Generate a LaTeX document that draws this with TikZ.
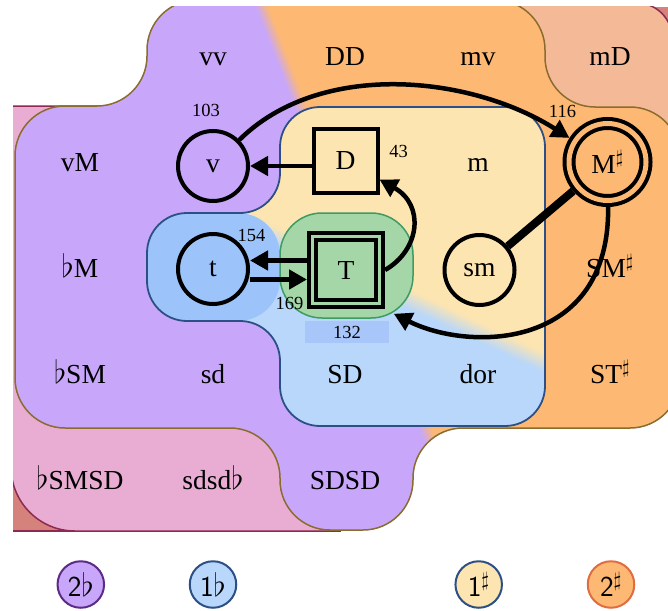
\RequirePackage{fix-cm}
\documentclass[tikz,border=0pt]{standalone}
\usepackage{fontspec}
\setmainfont{Liberation Serif}
\usetikzlibrary{arrows.meta}
\definecolor{cP}{HTML}{C8A7FB}
\definecolor{cO}{HTML}{FDB973}
\definecolor{cB}{HTML}{B8D7FB}
\definecolor{cY}{HTML}{FDE5B1}
\definecolor{cTB}{HTML}{9CC4FB}
\definecolor{cG}{HTML}{A5D6A7}
\definecolor{cGb}{HTML}{3E9B63}
\definecolor{cPink}{HTML}{E9ADD4}
\definecolor{cSal}{HTML}{F4BA98}
\definecolor{cR}{HTML}{D4827B}
\definecolor{cMar}{HTML}{8E2A52}
\definecolor{cOl}{HTML}{8A6C2E}
\definecolor{cNavy}{HTML}{2C5085}
\definecolor{cLB}{HTML}{A9C6FA}
\definecolor{cLP}{HTML}{5B2B86}
\definecolor{cLO}{HTML}{E06C42}
% a flat sign a little taller than the capitals around it
\newcommand{\kflat}{{\fontsize{32}{32}\selectfont$\flat$}}
\begin{document}
\begin{tikzpicture}[x=1pt,y=-1pt,
  lab/.style={font=\fontsize{27.5}{30}\selectfont, anchor=base, inner sep=0pt},
  num/.style={font=\fontsize{18.5}{20}\selectfont, inner sep=0pt},
  key/.style={circle, minimum size=70pt, inner sep=0pt, draw=black, line width=4pt,
    font=\fontsize{27.5}{30}\selectfont},
  keybox/.style={rectangle, minimum size=64pt, inner sep=0pt, draw=black, line width=4pt,
    font=\fontsize{27.5}{30}\selectfont},
  tonic/.style={rectangle, minimum size=67pt, inner sep=0pt, draw=black, line width=4pt,
    double=cG, double distance=3pt, fill=cG, outer sep=5.5pt, font=\fontsize{27.5}{30}\selectfont},
  major/.style={circle, minimum size=77pt, inner sep=0pt, draw=black, line width=4pt,
    double=cO, double distance=5pt, outer sep=6.5pt, font=\fontsize{27.5}{30}\selectfont},
  cell/.style={rectangle, rounded corners=42pt, minimum width=133pt, minimum height=105pt,
    fill=cG, draw=cGb, line width=1.5pt},
  edge/.style={line width=4.5pt, -{Triangle[length=18pt,width=19pt]}},
  legend/.style={circle, minimum size=46.5pt, inner sep=0pt, line width=2pt,
    font=\fontsize{29}{32}\sffamily},
  region/.style={line width=1.5pt},
]
\useasboundingbox (0,0) rectangle (668,610);

\begin{scope}
\clip (13,7) rectangle (668,545);

% outermost corners
\fill[cR] (13,440) rectangle (130,531);
\fill[cR] (580,7) rectangle (668,80);
\draw[cMar, region] (13,531) -- (130,531);

% three-flat region
\filldraw[fill=cPink, draw=cMar, region] (200,106) -- (11,106) -- (11,467)
  arc[start angle=180, end angle=90, radius=64] -- (340,531) -- (340,106) -- cycle;

% three-sharp region
\filldraw[fill=cSal, draw=cMar, region] (520,3) -- (637,3)
  arc[start angle=270, end angle=360, radius=35] -- (672,200) -- (520,200) -- cycle;

% two-accidental region, purple to orange
\begin{scope}
\clip[rounded corners=50] (350,0) -- (545,0) -- (545,107) -- (680,107) -- (680,428)
  -- (413,428) -- (413,530) -- (280,530) -- (280,428) -- (15,428) -- (15,106)
  -- (147,106) -- (147,0) -- cycle;
\fill[cP] (0,0) rectangle (700,560);
\begin{scope}[shift={(262,7)}, rotate=21.2]
  \fill[cO] (6,-900) -- (900,-900) -- (900,1200) -- (6,1200) -- cycle;
  \foreach \i in {0,...,11}{
    \pgfmathsetmacro\ua{-6+\i}
    \pgfmathsetmacro\ub{\ua+1.3}
    \pgfmathtruncatemacro\pc{round((\i+0.5)*100/12)}
    \fill[cO!\pc!cP] (\ua,-900) -- (\ub,-900) -- (\ub,1200) -- (\ua,1200) -- cycle;
  }
\end{scope}
\end{scope}
\draw[cOl, region, rounded corners=50] (350,0) -- (545,0) -- (545,107) -- (680,107) -- (680,428)
  -- (413,428) -- (413,530) -- (280,530) -- (280,428) -- (15,428) -- (15,106)
  -- (147,106) -- (147,0) -- cycle;

% one-accidental region, blue to yellow
\begin{scope}
\clip[rounded corners=40] (400,107) -- (545,107) -- (545,426) -- (280,426) -- (280,321)
  -- (147,321) -- (147,213) -- (280,213) -- (280,107) -- cycle;
\fill[cY] (0,0) rectangle (700,560);
\begin{scope}[shift={(390,290)}, rotate=64.8]
  \fill[cB] (-1000,-900) -- (-9,-900) -- (-9,1200) -- (-1000,1200) -- cycle;
  \foreach \i in {0,...,11}{
    \pgfmathsetmacro\ua{-9+1.5*\i}
    \pgfmathsetmacro\ub{\ua+1.8}
    \pgfmathtruncatemacro\pc{round((\i+0.5)*100/12)}
    \fill[cY!\pc!cB] (\ua,-900) -- (\ub,-900) -- (\ub,1200) -- (\ua,1200) -- cycle;
  }
\end{scope}
\fill[cTB, rounded corners=42] (147,213) rectangle (280,321);
\end{scope}
\draw[cNavy, line width=1.8pt, rounded corners=40] (400,107) -- (545,107) -- (545,426)
  -- (280,426) -- (280,321) -- (147,321) -- (147,213) -- (280,213) -- (280,107) -- cycle;
\end{scope}

% tonic cell
\node[cell] (Tcell) at (346.5,265.5) {};
\node[num, fill=cLB, minimum width=84pt, minimum height=22pt] (n132) at (347,332) {132};

% region names
\node[lab] (lvv) at (213,65) {vv};
\node[lab] (lDD) at (345,65) {DD};
\node[lab] (lmv) at (478,65) {mv};
\node[lab] (lmD) at (610,65) {mD};
\node[lab] (lvM) at (80,171) {vM};
\node[lab] (lm) at (478,171) {m};
\node[lab] (lfM) at (80,277) {\kflat M};
\node[lab] (lSMs) at (610,277) {SM$^\sharp$};
\node[lab] (lfSM) at (80,383) {\kflat SM};
\node[lab] (lsd) at (213,383) {sd};
\node[lab] (lSD) at (345,383) {SD};
\node[lab] (ldor) at (478,383) {dor};
\node[lab] (lSTs) at (610,383) {ST$^\sharp$};
\node[lab] (lfSMSD) at (80,489) {\kflat SMSD};
\node[lab] (lsdsdf) at (213,489) {sdsd\kflat};
\node[lab] (lSDSD) at (345,489) {SDSD};

% keys
\node[key] (v) at (213,166) {v};
\node[keybox] (D) at (345.5,160.5) {D};
\node[major] (Ms) at (607.5,162) {M$^\sharp$};
\node[key] (t) at (213,269) {t};
\node[tonic] (T) at (346,270) {T};
\node[key] (sm) at (479.5,270) {sm};

% counts
\node[num] (n103) at (206,110) {103};
\node[num] (n116) at (562.5,111.5) {116};
\node[num] (n43) at (398.5,151) {43};
\node[num] (n154) at (251.5,235) {154};
\node[num] (n169) at (289.5,303.5) {169};

% moves
\draw[edge] (D.west |- v.east) -- (v.east);
\draw[edge] (v) .. controls (320,60) and (470,75) .. (Ms);
\draw[edge] (T.east) .. controls (420,250) and (425,205) .. (D);
\draw[edge] ([yshift=9.5pt]T.west) -- ([yshift=9.5pt]T.west -| t.east);
\draw[edge] ([yshift=-9.5pt]T.west -| t.east) -- ([yshift=-9.5pt]T.west);
\draw[line width=8pt] (sm) -- (Ms);
\draw[edge] (Ms) .. controls (610,350) and (470,352) .. ([shift={(-20,-5)}]Tcell.south east);

% key signatures
\node[legend, fill=cP, draw=cLP] (k2f) at (80.8,584.5) {2\kflat};
\node[legend, fill=cB, draw=cNavy] (k1f) at (213,584.5) {1\kflat};
\node[legend, fill=cY, draw=cNavy] (k1s) at (478.7,584.5) {1$^\sharp$};
\node[legend, fill=cO, draw=cLO] (k2s) at (611,584.5) {2$^\sharp$};
\end{tikzpicture}
\end{document}
